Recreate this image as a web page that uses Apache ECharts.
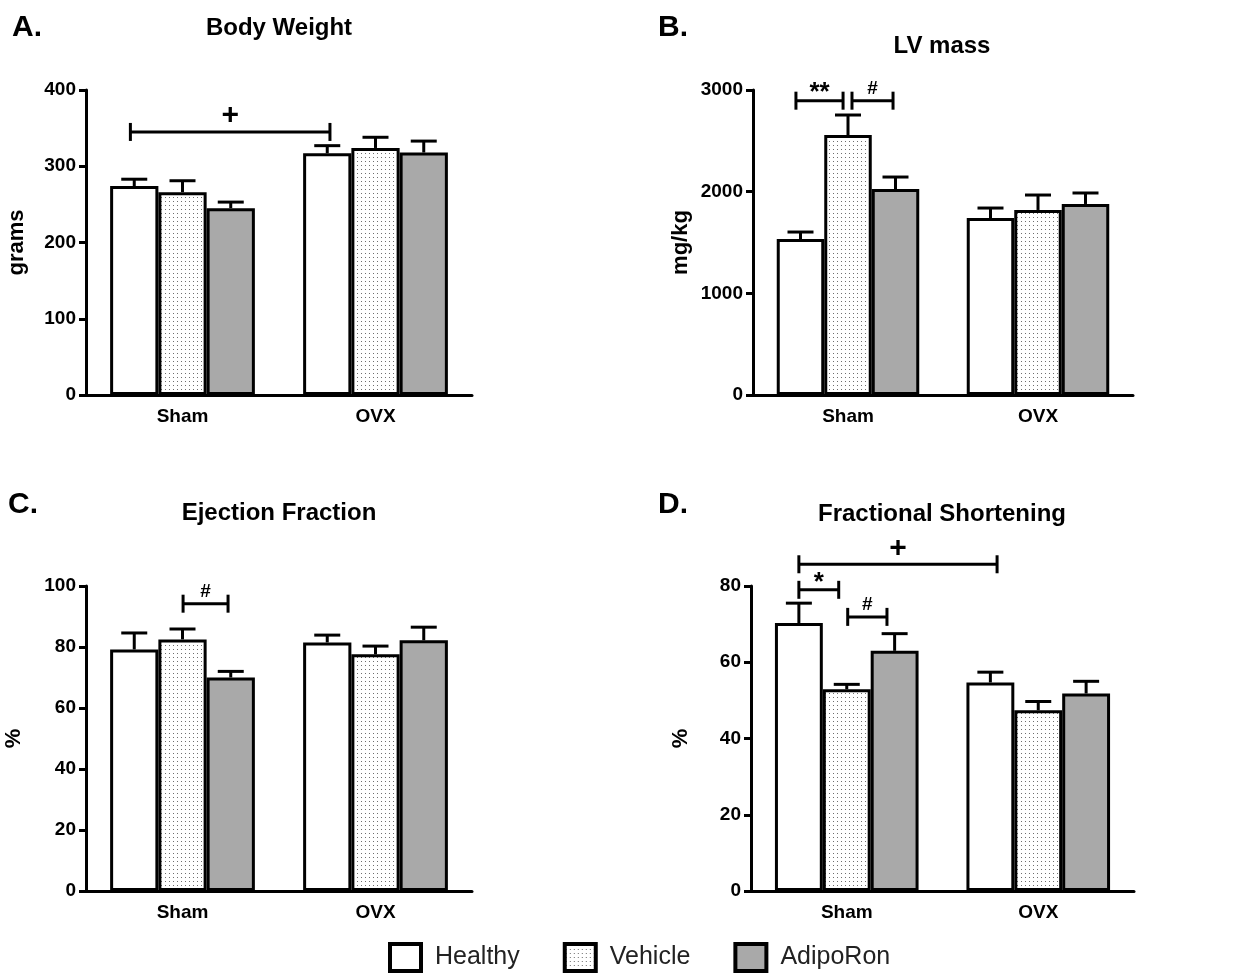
<!DOCTYPE html>
<html><head><meta charset="utf-8">
<script src="https://cdn.jsdelivr.net/npm/echarts@6/dist/echarts.min.js"></script>
<style>html,body{margin:0;padding:0;background:#fff}#c{width:1244px;height:977px}</style>
</head><body><div id="c"></div><script>
const categories = ['Sham', 'OVX'];
const groups = ['Healthy', 'Vehicle', 'AdipoRon'];

// A. Body Weight (grams)
const bwHealthy = [274, 317], bwVehicle = [266, 324], bwAdipo = [245, 318];
const bwHealthySem = [9, 10], bwVehicleSem = [15, 14], bwAdipoSem = [8, 15];
// B. LV mass (mg/kg)
const lvHealthy = [1534, 1741], lvVehicle = [2557, 1820], lvAdipo = [2026, 1879];
const lvHealthySem = [69, 98], lvVehicleSem = [197, 147], lvAdipoSem = [118, 108];
// C. Ejection Fraction (%)
const efHealthy = [79.2, 81.5], efVehicle = [82.5, 77.6], efAdipo = [70.0, 82.2];
const efHealthySem = [5.4, 2.4], efVehicleSem = [3.4, 2.7], efAdipoSem = [2.0, 4.3];
// D. Fractional Shortening (%)
const fsHealthy = [70.3, 54.7], fsVehicle = [52.9, 47.4], fsAdipo = [63.0, 51.8];
const fsHealthySem = [5.2, 2.7], fsVehicleSem = [1.3, 2.3], fsAdipoSem = [4.5, 3.2];

// y axis ranges [max, interval]
const bwAxis = [400, 100], lvAxis = [3000, 1000], efAxis = [100, 20], fsAxis = [80, 20];

// significance brackets: [leftCategory, leftOffset(band), rightCategory, rightOffset(band), yValue]
const bwBrackets = [[0, -0.27, 1, -0.236, 345]];
const bwBracketLabels = ['+'];
const lvBrackets = [[0, -0.274, 0, -0.026, 2895], [0, 0.021, 0, 0.237, 2895]];
const lvBracketLabels = ['**', '#'];
const efBrackets = [[0, 0.003, 0, 0.236, 94.2]];
const efBracketLabels = ['#'];
const fsBrackets = [[0, -0.25, 1, -0.215, 85.7], [0, -0.25, 0, -0.042, 79.0], [0, 0.005, 0, 0.21, 71.9]];
const fsBracketLabels = ['+', '*', '#'];

const FONT = "'Liberation Sans', Arial, Helvetica, sans-serif";

// dotted fill
const dot = document.createElement('canvas');
dot.width = 4; dot.height = 4;
(function () {
  const g = dot.getContext('2d');
  g.fillStyle = '#ffffff'; g.fillRect(0, 0, 4, 4);
  g.fillStyle = '#6e6e6e'; g.fillRect(1, 1, 1, 1);
})();
const fills = ['#ffffff', { image: dot, repeat: 'repeat' }, '#a9a9a9'];

const panels = [
  { means: [bwHealthy, bwVehicle, bwAdipo], sems: [bwHealthySem, bwVehicleSem, bwAdipoSem], axis: bwAxis, name: 'grams', gap: 58, br: bwBrackets, brl: bwBracketLabels,
    grid: { left: 86, top: 90, width: 386, height: 305 } },
  { means: [lvHealthy, lvVehicle, lvAdipo], sems: [lvHealthySem, lvVehicleSem, lvAdipoSem], axis: lvAxis, name: 'mg/kg', gap: 61, br: lvBrackets, brl: lvBracketLabels,
    grid: { left: 753, top: 90, width: 380, height: 305 } },
  { means: [efHealthy, efVehicle, efAdipo], sems: [efHealthySem, efVehicleSem, efAdipoSem], axis: efAxis, name: '%', gap: 61, br: efBrackets, brl: efBracketLabels,
    grid: { left: 86, top: 586, width: 386, height: 305 } },
  { means: [fsHealthy, fsVehicle, fsAdipo], sems: [fsHealthySem, fsVehicleSem, fsAdipoSem], axis: fsAxis, name: '%', gap: 59, br: fsBrackets, brl: fsBracketLabels,
    grid: { left: 751, top: 586, width: 383, height: 305 } }
];

const labelStyle = { '+': { size: 30, dy: 16 }, '**': { size: 26, dy: 8 }, '*': { size: 26, dy: 7 }, '#': { size: 19, dy: 12 } };

function errRender(params, api) {
  const cat = api.value(0), k = api.value(1), mean = api.value(2), sem = api.value(3);
  const band = api.size([1, 0])[0];
  const p0 = api.coord([cat, mean]);
  const p1 = api.coord([cat, mean + sem]);
  const x = p0[0] + (k - 1) * band * 0.25;
  const half = 13;
  const st = { stroke: '#000', lineWidth: 3 };
  return { type: 'group', children: [
    { type: 'line', shape: { x1: x, y1: p0[1], x2: x, y2: p1[1] }, style: st },
    { type: 'line', shape: { x1: x - half, y1: p1[1], x2: x + half, y2: p1[1] }, style: st }
  ] };
}

function makeBracketRender(labels) {
  return function (params, api) {
    const cL = api.value(0), oL = api.value(1), cR = api.value(2), oR = api.value(3), y = api.value(4);
    const band = api.size([1, 0])[0];
    const pL = api.coord([cL, y]), pR = api.coord([cR, y]);
    const xL = pL[0] + oL * band, xR = pR[0] + oR * band, yy = pL[1];
    const lab = labels[params.dataIndex];
    const ls = labelStyle[lab];
    const st = { stroke: '#000', lineWidth: 3 };
    return { type: 'group', children: [
      { type: 'line', shape: { x1: xL, y1: yy, x2: xR, y2: yy }, style: st },
      { type: 'line', shape: { x1: xL, y1: yy - 9, x2: xL, y2: yy + 9 }, style: st },
      { type: 'line', shape: { x1: xR, y1: yy - 9, x2: xR, y2: yy + 9 }, style: st },
      { type: 'text', x: (xL + xR) / 2, y: yy - ls.dy, style: { text: lab, fontSize: ls.size, fontWeight: 'bold', fontFamily: FONT, fill: '#000', align: 'center', verticalAlign: 'middle' } }
    ] };
  };
}

const grid = [], xAxis = [], yAxis = [], series = [];
panels.forEach(function (p, pi) {
  grid.push(Object.assign({ outerBoundsMode: 'none', containLabel: false }, p.grid));
  xAxis.push({
    type: 'category', gridIndex: pi, data: categories,
    axisLine: { lineStyle: { color: '#000', width: 3 } }, axisTick: { show: false },
    axisLabel: { color: '#000', fontWeight: 'bold', fontSize: 19, fontFamily: FONT, margin: 12 }
  });
  yAxis.push({
    type: 'value', gridIndex: pi, min: 0, max: p.axis[0], interval: p.axis[1],
    name: p.name, nameLocation: 'middle', nameGap: p.gap,
    nameTextStyle: { color: '#000', fontWeight: 'bold', fontSize: 22, fontFamily: FONT },
    axisLine: { show: true, lineStyle: { color: '#000', width: 3 } },
    axisTick: { show: true, length: 7, lineStyle: { color: '#000', width: 3 } },
    splitLine: { show: false },
    axisLabel: { color: '#000', fontWeight: 'bold', fontSize: 19, fontFamily: FONT, margin: 10,
      formatter: function (v) { return String(v); } }
  });
  const errData = [];
  groups.forEach(function (g, gi) {
    series.push({
      type: 'bar', name: g, xAxisIndex: pi, yAxisIndex: pi, data: p.means[gi],
      barGap: '0%', barCategoryGap: '25%', z: 2,
      itemStyle: { color: fills[gi], borderColor: '#000', borderWidth: 3 },
      emphasis: { disabled: true }
    });
    p.means[gi].forEach(function (m, ci) { errData.push([ci, gi, m, p.sems[gi][ci]]); });
  });
  series.push({
    type: 'custom', xAxisIndex: pi, yAxisIndex: pi, renderItem: errRender, data: errData,
    encode: { x: 0, y: 2 }, z: 3, silent: true
  });
  series.push({
    type: 'custom', xAxisIndex: pi, yAxisIndex: pi, renderItem: makeBracketRender(p.brl), data: p.br,
    encode: { x: 0, y: 4 }, z: 4, clip: false, silent: true
  });
});

const tStyle = { color: '#000', fontWeight: 'bold', fontSize: 24, fontFamily: FONT };
const lStyle = { color: '#000', fontWeight: 'bold', fontSize: 30, fontFamily: FONT };
const option = {
  animation: false,
  backgroundColor: '#fff',
  title: [
    { text: 'A.', left: 12, top: 13, padding: 0, textStyle: lStyle },
    { text: 'B.', left: 658, top: 13, padding: 0, textStyle: lStyle },
    { text: 'C.', left: 8, top: 490, padding: 0, textStyle: lStyle },
    { text: 'D.', left: 658, top: 490, padding: 0, textStyle: lStyle },
    { text: 'Body Weight', left: 279, top: 16, padding: 0, textAlign: 'center', textStyle: tStyle },
    { text: 'LV mass', left: 942, top: 34, padding: 0, textAlign: 'center', textStyle: tStyle },
    { text: 'Ejection Fraction', left: 279, top: 501, padding: 0, textAlign: 'center', textStyle: tStyle },
    { text: 'Fractional Shortening', left: 942, top: 502, padding: 0, textAlign: 'center', textStyle: tStyle }
  ],
  legend: {
    data: groups, left: 388, top: 942, padding: 0, icon: 'rect', itemWidth: 31, itemHeight: 27, itemGap: 43,
    itemStyle: { borderColor: '#000', borderWidth: 4 },
    textStyle: { fontSize: 25, color: '#222', fontFamily: FONT, padding: [0, 0, 0, 9] },
    selectedMode: false
  },
  grid: grid, xAxis: xAxis, yAxis: yAxis, series: series
};
const chart = echarts.init(document.getElementById('c'), null, { renderer: 'canvas' });
chart.setOption(option);
</script></body></html>
